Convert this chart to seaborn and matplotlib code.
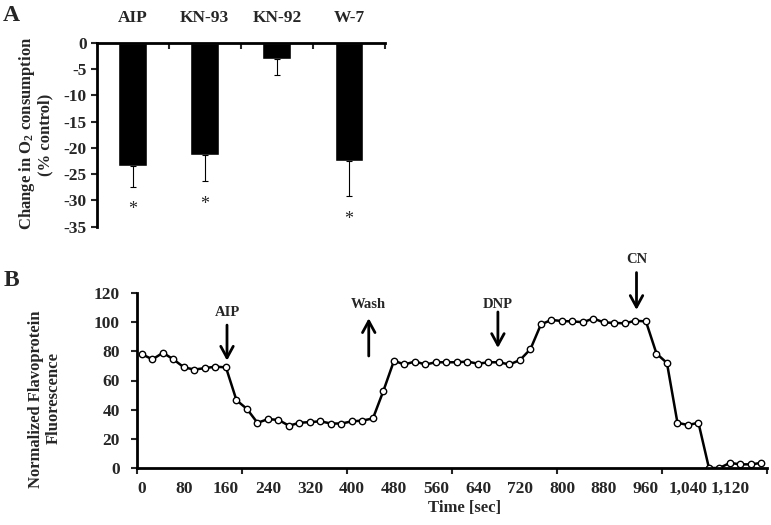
import numpy as np
import pandas as pd
import matplotlib
matplotlib.use("Agg")
import matplotlib.pyplot as plt
import seaborn as sns

# ---------------- data ----------------
# Panel A
categories = ["AIP", "KN-93", "KN-92", "W-7"]
change_pct = [-23.4, -21.4, -3.1, -22.5]
err_lower = [4.0, 5.0, 3.0, 6.7]
significant = [True, True, False, True]
y_ticks_a = [0, -5, -10, -15, -20, -25, -30, -35]

# Panel B (sampled every 20 s)
time_s = [0, 20, 40, 60, 80, 100, 120, 140, 160, 180,
          200, 220, 240, 260, 280, 300, 320, 340, 360, 380,
          400, 420, 440, 460, 480, 500, 520, 540, 560, 580,
          600, 620, 640, 660, 680, 700, 720, 740, 760, 780,
          800, 820, 840, 860, 880, 900, 920, 940, 960, 980,
          1000, 1020, 1040, 1060, 1080, 1100, 1120, 1140, 1160, 1180]
fluorescence = [78, 74.5, 79, 74.5, 69, 67.5, 68.5, 69.5, 69, 46.5,
                40.5, 31, 33.5, 33, 29, 31, 31.5, 32, 30.5, 30.5,
                32, 32.5, 34, 53, 73.5, 71, 73, 71, 72.5, 72.5,
                72.5, 73, 71.5, 72.5, 72.5, 71, 74, 81.5, 98.5, 101.5,
                100.8, 100.5, 100, 102.5, 99.8, 99.5, 99.2, 101, 100.5, 78.5,
                72, 31, 29.5, 31, 0, 0, 3.5, 2.5, 2.5, 3.5]
x_label_pos = [0, 80, 160, 240, 320, 400, 480, 560, 640, 720, 800, 880, 960, 1040, 1120]
x_labels = ["0", "80", "160", "240", "320", "400", "480", "560", "640", "720",
            "800", "880", "960", "1,040", "1,120"]
y_ticks_b = [0, 20, 40, 60, 80, 100, 120]

# treatment annotations: label, x (s), text y, arrow start y, arrow tip y
events = ["AIP", "Wash", "DNP", "CN"]
event_x = [162, 432, 678, 942]
event_text_y = [106.5, 111.8, 111.8, 142.7]
event_tail_y = [98, 76.8, 107, 134]
event_tip_y = [73.6, 102.7, 82.3, 108.4]

# ---------------- style ----------------
sns.set_style("white")
plt.rcParams["font.family"] = ["Liberation Serif", "DejaVu Serif"]
plt.rcParams["font.weight"] = "bold"
plt.rcParams["axes.unicode_minus"] = False
plt.rcParams["mathtext.fontset"] = "custom"
plt.rcParams["mathtext.rm"] = "Liberation Serif:bold"
plt.rcParams["mathtext.it"] = "Liberation Serif:italic:bold"
plt.rcParams["mathtext.bf"] = "Liberation Serif:bold"
plt.rcParams["mathtext.default"] = "rm"

W, H = 771, 525
fig = plt.figure(figsize=(W / 100, H / 100), dpi=100)

def fax(l, t, r, b):
    return fig.add_axes([l / W, 1 - b / H, (r - l) / W, (b - t) / H])

# ---------------- panel A ----------------
axA = fax(96.7, 42.7, 385, 226.7)
dfA = pd.DataFrame({"cond": categories, "change": change_pct})
sns.barplot(data=dfA, x="cond", y="change", color="black", saturation=1,
            width=0.4, errorbar=None, ax=axA)
xs = np.arange(len(categories))
axA.errorbar(xs, change_pct, yerr=[err_lower, np.zeros(len(err_lower))],
             fmt="none", ecolor="black", elinewidth=0.8, capsize=2.2, capthick=0.8)
for i, (v, e, s) in enumerate(zip(change_pct, err_lower, significant)):
    if s:
        axA.text(i, v - e - 4.4, "*", ha="center", va="center", fontsize=13,
                 fontweight="normal")
axA.set_xlim(-0.5, len(categories) - 0.5)
axA.set_ylim(-35, 0)
axA.set_xlabel("")
axA.set_ylabel("")
for side in ["bottom", "right"]:
    axA.spines[side].set_visible(False)
for side in ["left", "top"]:
    axA.spines[side].set_linewidth(2.0)
    axA.spines[side].set_color("black")
axA.set_yticks(y_ticks_a, [str(v) for v in y_ticks_a])
axA.tick_params(axis="y", direction="out", length=4, width=1.5, pad=3,
                labelsize=12.5, left=True)
axA.xaxis.tick_top()
axA.set_xticks(xs, categories)
axA.set_xticks(list(xs + 0.5), minor=True)
axA.tick_params(axis="x", which="major", length=0, pad=12, labelsize=12.5,
                top=True, bottom=False, labeltop=True, labelbottom=False)
axA.tick_params(axis="x", which="minor", length=4, width=1.5, direction="in",
                top=True, bottom=False)
for lab in axA.get_xticklabels() + axA.get_yticklabels():
    lab.set_fontweight("bold")

fig.text(11.5 / W, 1 - 15.5 / H, "A", fontsize=17, fontweight="bold",
         ha="center", va="center")
fig.text(27 / W, 1 - 133 / H, "Change in O$_2$ consumption", rotation=90,
         fontsize=12, fontweight="bold", ha="center", va="center")
fig.text(45 / W, 1 - 135 / H, "(% control)", rotation=90,
         fontsize=12, fontweight="bold", ha="center", va="center")

# ---------------- panel B ----------------
axB = fax(136.7, 293, 766.7, 468)
sns.lineplot(x=time_s, y=fluorescence, ax=axB, color="black", linewidth=1.8,
             marker="o", markersize=4.6, markerfacecolor="white",
             markeredgecolor="black", markeredgewidth=1.0)
axB.set_xlim(-10, 1190)
axB.set_ylim(0, 120)
for side in ["top", "right"]:
    axB.spines[side].set_visible(False)
for side in ["left", "bottom"]:
    axB.spines[side].set_linewidth(2.0)
    axB.spines[side].set_color("black")
axB.set_xticks(np.arange(-10, 1191, 200))
axB.set_xticklabels([])
axB.set_xticks(x_label_pos, x_labels, minor=True)
axB.tick_params(axis="x", which="major", direction="out", length=4, width=1.5,
                bottom=True)
axB.tick_params(axis="x", which="minor", length=0, pad=9.5, labelsize=12.5,
                bottom=True)
axB.set_yticks(y_ticks_b, [str(v) for v in y_ticks_b])
axB.tick_params(axis="y", direction="out", length=4, width=1.5, pad=8,
                labelsize=12.5, left=True)
for lab in (axB.get_xticklabels(minor=True) + axB.get_yticklabels()):
    lab.set_fontweight("bold")
axB.set_xlabel("")
axB.set_ylabel("")

for lab, x, ty, t0, t1 in zip(events, event_x, event_text_y, event_tail_y, event_tip_y):
    axB.text(x, ty, lab, ha="center", va="center", fontsize=10.5,
             fontweight="bold", clip_on=False)
    axB.annotate("", xy=(x, t1), xytext=(x, t0), annotation_clip=False,
                 arrowprops=dict(arrowstyle="->,head_length=0.55,head_width=0.3",
                                 lw=2.0, color="black", mutation_scale=15,
                                 shrinkA=0, shrinkB=0))

fig.text(11.5 / W, 1 - 281 / H, "B", fontsize=17, fontweight="bold",
         ha="center", va="center")
fig.text(36.5 / W, 1 - 399 / H, "Normalized Flavoprotein", rotation=90,
         fontsize=12, fontweight="bold", ha="center", va="center")
fig.text(54 / W, 1 - 398 / H, "Fluorescence", rotation=90,
         fontsize=12, fontweight="bold", ha="center", va="center")
fig.text(465 / W, 1 - 508 / H, "Time [sec]", fontsize=12, fontweight="bold",
         ha="center", va="center")

fig.savefig("out.png", dpi=100)
